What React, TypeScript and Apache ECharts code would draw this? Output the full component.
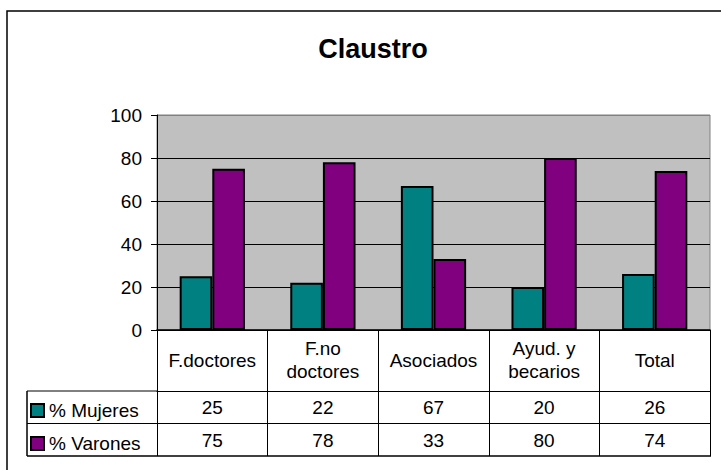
import React, { useEffect, useRef } from "react";
import * as echarts from "echarts";

const categories = ["F.doctores", "F.no\ndoctores", "Asociados", "Ayud. y\nbecarios", "Total"];
const mujeres = [25, 22, 67, 20, 26];
const varones = [75, 78, 33, 80, 74];
const seriesNames = ["% Mujeres", "% Varones"];
const yTicks = { min: 0, max: 100, interval: 20 };

const FONT = "'Liberation Sans', Arial, sans-serif";

export default function App() {
  const ref = useRef<HTMLDivElement>(null);
  useEffect(() => {
    if (!ref.current) return;
    const chart = echarts.init(ref.current, undefined, { renderer: "svg" });
    const black = "#000";
    const labelBase = { color: black, fontFamily: FONT, fontSize: 19 };
    chart.setOption({
      animation: false,
      backgroundColor: "#fff",
      title: {
        text: "Claustro",
        left: 368,
        top: 30,
        textAlign: "center",
        textStyle: { fontFamily: FONT, fontSize: 27, fontWeight: "bold", color: black },
      },
      legend: {
        orient: "vertical",
        left: 30,
        top: 401,
        padding: 0,
        itemGap: 14,
        itemWidth: 13,
        itemHeight: 13,
        icon: "rect",
        selectedMode: false,
        data: seriesNames,
        textStyle: { ...labelBase, lineHeight: 19 },
      },
      grid: {
        left: 157,
        top: 115,
        right: 11,
        height: 215,
        show: true,
        backgroundColor: "#C0C0C0",
        borderColor: "#808080",
        borderWidth: 1,
      },
      yAxis: {
        type: "value",
        min: yTicks.min,
        max: yTicks.max,
        interval: yTicks.interval,
        axisLine: { show: true, lineStyle: { color: black, width: 1 } },
        axisTick: { show: true, length: 6, lineStyle: { color: black } },
        axisLabel: { ...labelBase, margin: 15 },
        splitLine: {
          show: true,
          lineStyle: { color: [black, black, black, black, black, "#808080"], width: 1 },
        },
      },
      xAxis: [
        {
          type: "category",
          data: categories,
          axisLine: { show: true, lineStyle: { color: black, width: 1.5 } },
          axisTick: { show: true, length: 61, inside: false, alignWithLabel: false, interval: 0, lineStyle: { color: black } },
          axisLabel: { ...labelBase, margin: 30, verticalAlign: "middle", lineHeight: 23, interval: 0 },
        },
        {
          type: "category",
          position: "bottom",
          offset: 61,
          data: mujeres.map(String),
          axisLine: { show: true, lineStyle: { color: black, width: 1 } },
          axisTick: { show: true, length: 65, inside: false, interval: 0, lineStyle: { color: black } },
          axisLabel: { ...labelBase, margin: 16, verticalAlign: "middle", interval: 0 },
        },
        {
          type: "category",
          position: "bottom",
          offset: 93,
          data: varones.map(String),
          axisLine: { show: true, lineStyle: { color: black, width: 1 } },
          axisTick: { show: false },
          axisLabel: { ...labelBase, margin: 17, verticalAlign: "middle", interval: 0 },
        },
      ],
      series: [
        {
          name: seriesNames[0],
          type: "bar",
          xAxisIndex: 0,
          data: mujeres,
          barGap: "0%",
          barCategoryGap: "41%",
          itemStyle: { color: "#008080", borderColor: black, borderWidth: 2 },
        },
        {
          name: seriesNames[1],
          type: "bar",
          xAxisIndex: 0,
          data: varones,
          barGap: "0%",
          barCategoryGap: "41%",
          itemStyle: { color: "#800080", borderColor: black, borderWidth: 2 },
        },
      ],
      graphic: [
        {
          type: "rect",
          shape: { x: 7, y: 11, width: 900, height: 600 },
          style: { fill: "none", stroke: black, lineWidth: 1.5 },
          silent: true,
        },
        { type: "line", shape: { x1: 27, y1: 391, x2: 157, y2: 391 }, style: { stroke: black, lineWidth: 1 } },
        { type: "line", shape: { x1: 27, y1: 423.5, x2: 157, y2: 423.5 }, style: { stroke: black, lineWidth: 1 } },
        { type: "line", shape: { x1: 27, y1: 456, x2: 711, y2: 456 }, style: { stroke: black, lineWidth: 1.5 } },
        { type: "line", shape: { x1: 27, y1: 391, x2: 27, y2: 456 }, style: { stroke: black, lineWidth: 1.5 } },
      ],
    });
    return () => chart.dispose();
  }, []);
  return (
    <div
      ref={ref}
      style={{ position: "fixed", left: 0, top: 0, width: 721, height: 470, background: "#fff" }}
    />
  );
}
